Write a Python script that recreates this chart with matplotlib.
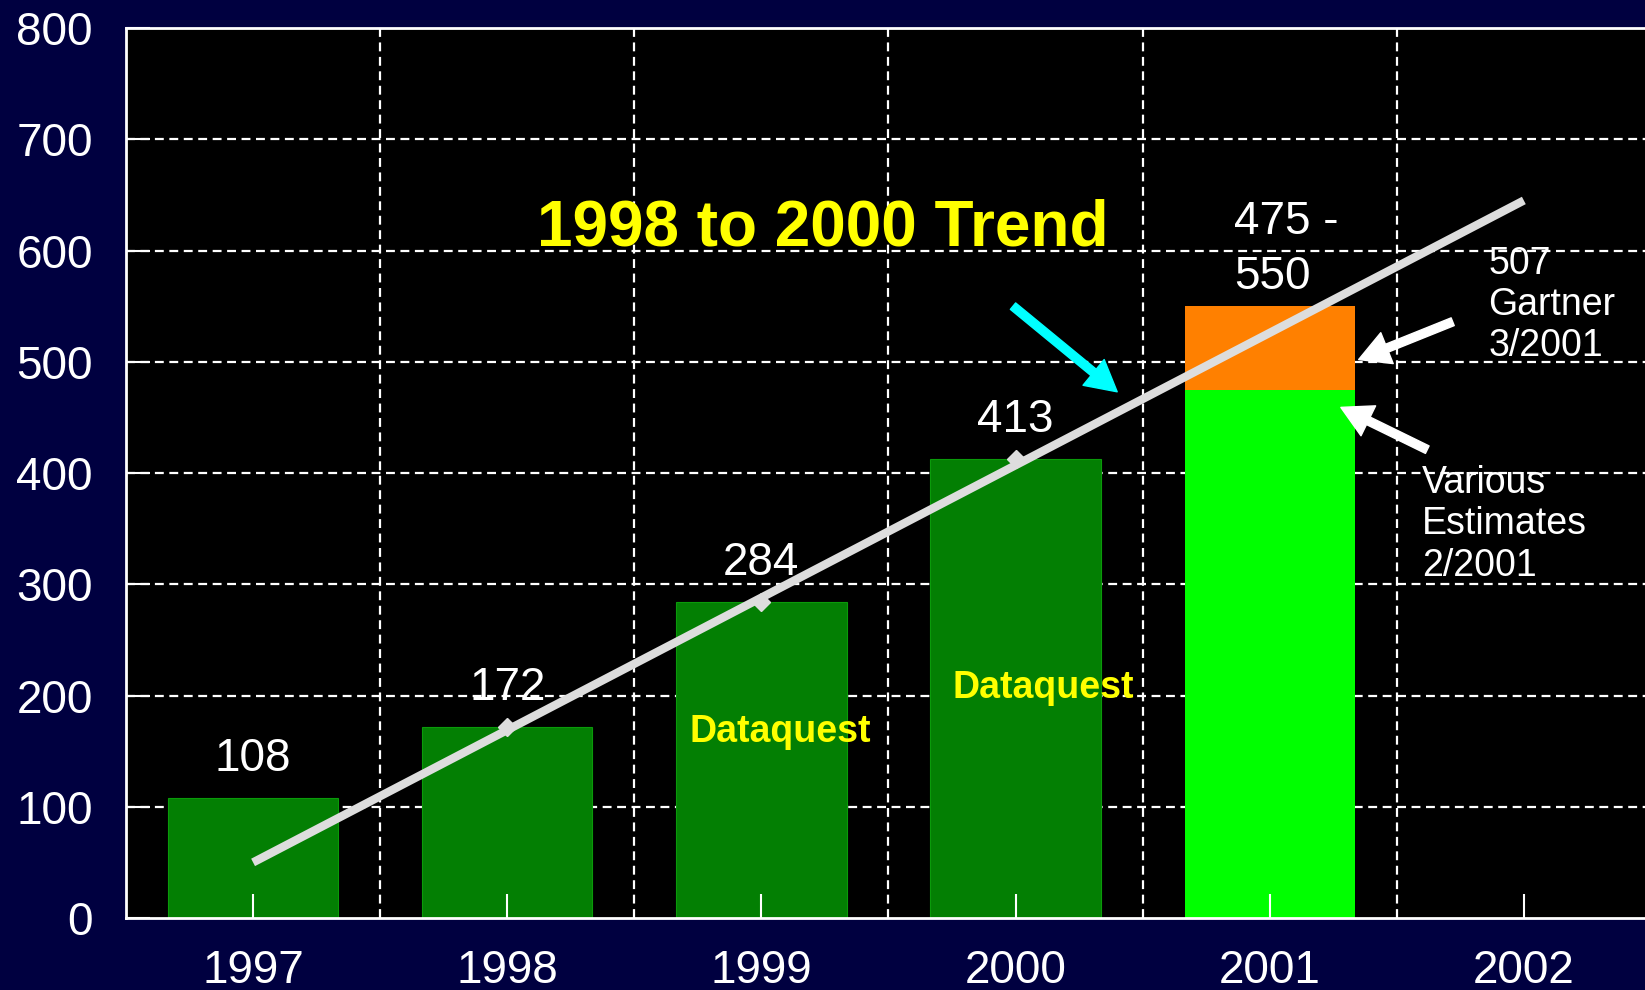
import numpy as np
import matplotlib
matplotlib.use("Agg")
import matplotlib.pyplot as plt

plt.rcParams['font.family'] = ['Liberation Sans', 'DejaVu Sans']

# data
years = ['1997', '1998', '1999', '2000', '2001', '2002']
actual = [108, 172, 284, 413]          # Dataquest, 1997-2000
est_low = 475                          # 2001 estimates 2/2001
est_high = 550                         # 2001 Gartner 3/2001
trend_pts = [172, 284, 413]            # points the trend was fitted to (1998-2000)
trend_ends = [50, 645]                 # trend line at 1997 and 2002

navy = '#000040'
fig = plt.figure(figsize=(16.45, 9.9), dpi=100, facecolor=navy)
ax = fig.add_axes([0.0766, 0.0727, 0.927, 0.899])
ax.set_facecolor('black')

x = np.arange(len(years))
bw = 0.67

# grid under the bars
for yv in range(100, 800, 100):
    ax.axhline(yv, color='white', lw=1.6, ls=(0, (4, 2.5)), zorder=0.5)
for xv in np.arange(0.5, 5.0, 1.0):
    ax.axvline(xv, color='white', lw=1.6, ls=(0, (4, 2.5)), zorder=0.5)

ax.bar(x[:4], actual, width=bw, color='#037F03', edgecolor='#0a9a0a', lw=0.8, zorder=1)
ax.bar(x[4], est_low, width=bw, color='#00FF00', zorder=1)
ax.bar(x[4], est_high - est_low, bottom=est_low, width=bw, color='#FF8000', zorder=1)

# trend line
ax.plot([x[0], x[5]], trend_ends, color='#DDDDDD', lw=6, solid_capstyle='butt', zorder=3)
ax.plot(x[1:4], trend_pts, ls='none', marker='D', ms=9, color='#DDDDDD', zorder=3)

# value labels
for xi, v in zip(x[:4], actual):
    ax.text(xi, v + 35, str(v), color='white', fontsize=33, ha='center', va='center', zorder=4)
ax.text(3.86, 601, f'{est_low} -\n{est_high}', color='white', fontsize=33,
        ha='left', va='center', linespacing=1.3, zorder=4)

ax.text(2.075, 167, 'Dataquest', color='#FFFF00', fontsize=27, fontweight='bold',
        ha='center', va='center', zorder=4)
ax.text(3.11, 207, 'Dataquest', color='#FFFF00', fontsize=27, fontweight='bold',
        ha='center', va='center', zorder=4)

ax.text(2.24, 620, '1998 to 2000 Trend', color='#FFFF00', fontsize=46, fontweight='bold',
        ha='center', va='center', zorder=4)

ax.text(4.86, 551, '507\nGartner\n3/2001', color='white', fontsize=27,
        ha='left', va='center', linespacing=1.18, zorder=4)
ax.text(4.60, 354, 'Various\nEstimates\n2/2001', color='white', fontsize=27,
        ha='left', va='center', linespacing=1.2, zorder=4)

# arrows
arrow_kw = dict(width=6, headwidth=24, headlength=22, shrink=0)
ax.annotate('', xy=(4.35, 502), xytext=(4.72, 536),
            arrowprops=dict(facecolor='white', edgecolor='white', **arrow_kw), zorder=5)
ax.annotate('', xy=(4.28, 459), xytext=(4.62, 421),
            arrowprops=dict(facecolor='white', edgecolor='white', **arrow_kw), zorder=5)
ax.annotate('', xy=(3.40, 473), xytext=(2.99, 550),
            arrowprops=dict(facecolor='#00FFFF', edgecolor='#00FFFF', **arrow_kw), zorder=5)

ax.set_xlim(-0.5, 5.5)
ax.set_ylim(0, 800)
ax.set_xticks(x)
ax.set_xticklabels(years)
ax.set_yticks(range(0, 801, 100))
ax.tick_params(axis='both', colors='white', labelcolor='white', labelsize=33,
               direction='in', length=17, width=1.5)
ax.tick_params(axis='x', pad=22)
ax.tick_params(axis='y', pad=24)
for s in ['left', 'bottom', 'top']:
    ax.spines[s].set_color('white')
    ax.spines[s].set_linewidth(2)
ax.spines['right'].set_visible(False)

fig.savefig('out.png', dpi=100, facecolor=navy)
